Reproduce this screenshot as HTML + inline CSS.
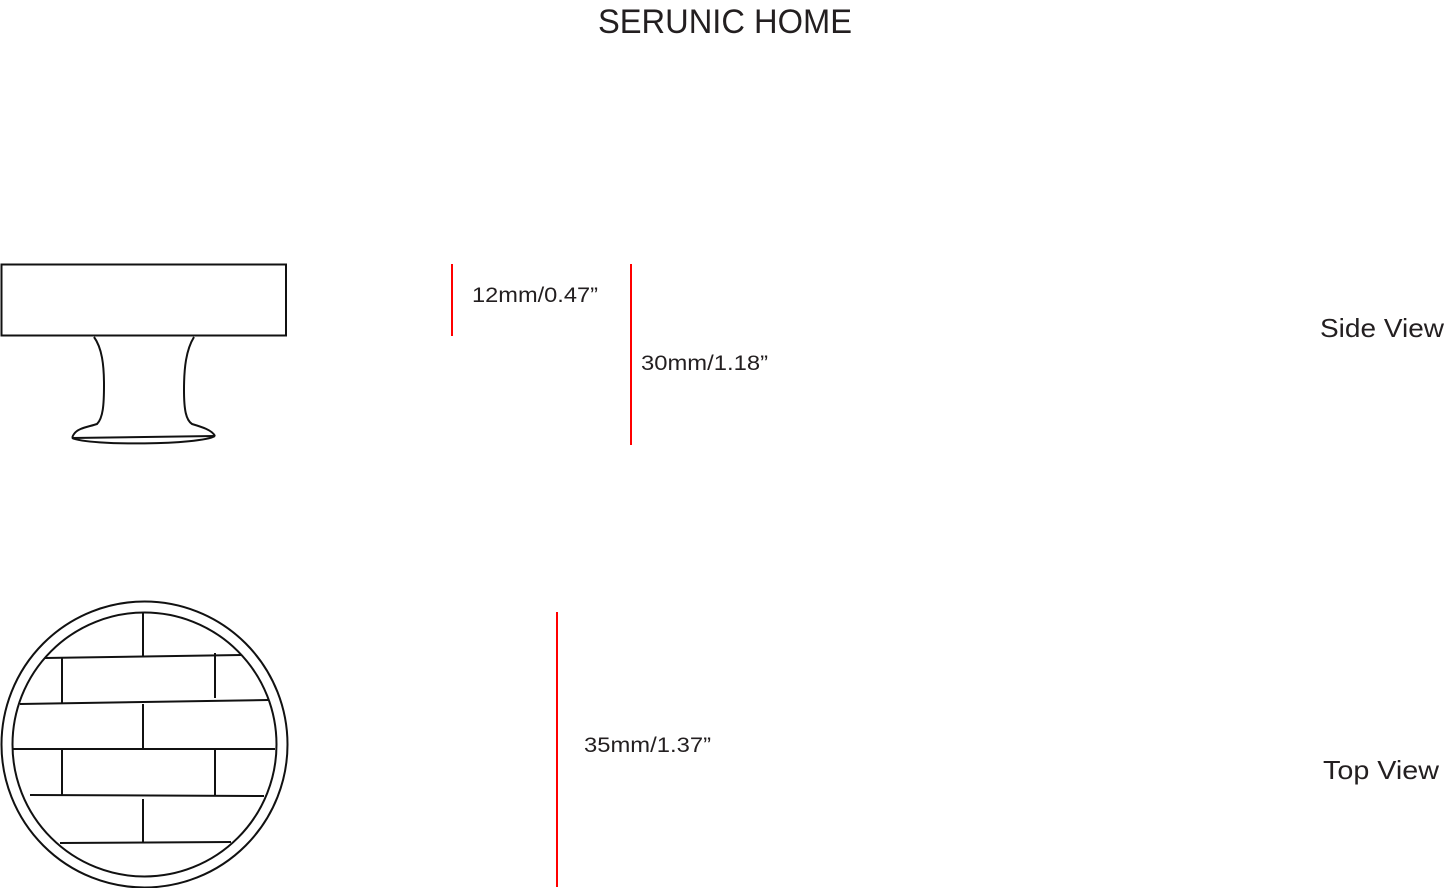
<!DOCTYPE html>
<html><head><meta charset="utf-8"><style>html,body{margin:0;padding:0;background:#fff}svg{display:block}</style></head>
<body>
<svg width="1445" height="888" viewBox="0 0 1445 888" xmlns="http://www.w3.org/2000/svg" font-family="Liberation Sans, sans-serif" fill="#231f20">
<text x="598" y="33" font-size="34" textLength="254" lengthAdjust="spacingAndGlyphs">SERUNIC HOME</text>
<text x="472" y="302" font-size="21" textLength="126" lengthAdjust="spacingAndGlyphs">12mm/0.47”</text>
<text x="641" y="370" font-size="21" textLength="127" lengthAdjust="spacingAndGlyphs">30mm/1.18”</text>
<text x="584" y="752" font-size="21" textLength="127" lengthAdjust="spacingAndGlyphs">35mm/1.37”</text>
<text x="1320" y="337" font-size="26" textLength="124" lengthAdjust="spacingAndGlyphs">Side View</text>
<text x="1323" y="779" font-size="26" textLength="116" lengthAdjust="spacingAndGlyphs">Top View</text>
<g stroke="#ff0000" stroke-width="2">
<line x1="452" y1="264" x2="452" y2="336"/>
<line x1="631" y1="264" x2="631" y2="445"/>
<line x1="557" y1="612" x2="557" y2="887"/>
</g>
<g fill="none" stroke="#111" stroke-width="2">
<rect x="1.5" y="264.5" width="284.5" height="71"/>
<path d="M94 337 C102 348 104 365 104 385 C104 405 103 418 97 424 C88 427 78 428 74 434 C72 437 72 438 74 438"/>
<path d="M194 337 C186 350 184 368 184 390 C184 410 186 420 192 424 C202 427 212 430 215 436"/>
<path d="M72 438 L215 436"/>
<path d="M72 438 C90 446 200 445 215 436"/>
<circle cx="144.5" cy="744.5" r="143"/>
<circle cx="144.5" cy="744.5" r="132"/>
<line x1="143" y1="612" x2="143" y2="657"/>
<line x1="45" y1="658" x2="241" y2="655"/>
<line x1="62" y1="658" x2="62" y2="703"/>
<line x1="215" y1="653" x2="215" y2="698"/>
<line x1="20" y1="704" x2="268" y2="700"/>
<line x1="143" y1="704" x2="143" y2="749"/>
<line x1="12" y1="749" x2="275" y2="749"/>
<line x1="62" y1="749" x2="62" y2="795"/>
<line x1="215" y1="749" x2="215" y2="795"/>
<line x1="30" y1="795" x2="264" y2="796"/>
<line x1="143" y1="799" x2="143" y2="843"/>
<line x1="60" y1="843" x2="231" y2="842"/>
</g>
</svg>
</body></html>
